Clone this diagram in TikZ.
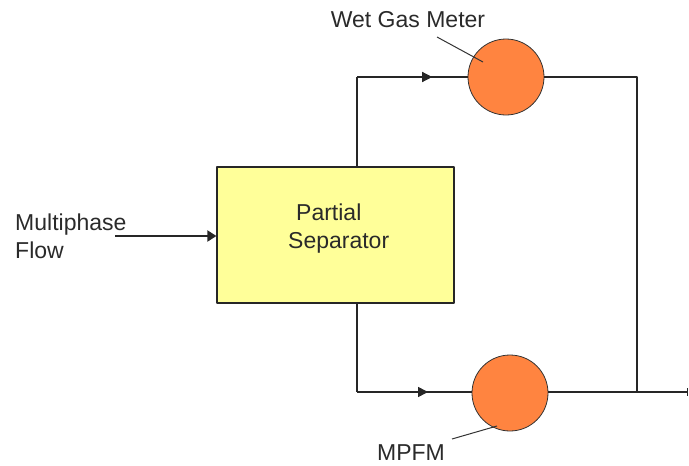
\documentclass[tikz,border=0pt]{standalone}
\usepackage{fontspec}
\setmainfont{Liberation Sans}
\usetikzlibrary{arrows.meta,decorations.markings}
\definecolor{sepyellow}{HTML}{FFFF99}
\definecolor{meterorange}{HTML}{FF8440}
\definecolor{txtgray}{HTML}{2A2A2A}
\begin{document}
\begin{tikzpicture}[x=1pt,y=-1pt,line join=round,>=Triangle,
		font=\fontsize{23}{28}\selectfont,
		pipe/.style={draw=black!85,line width=1.3pt},
		midarrow/.style={postaction={decorate},decoration={markings,
				mark=at position #1 with {\arrow{Triangle[length=10pt,width=10pt]}}}},
		meter/.style={circle,draw=black!80,line width=0.8pt,fill=meterorange,
				minimum size=76pt,inner sep=0pt},
		label/.style={text=txtgray,inner sep=0pt},
		leader/.style={draw=black!80,line width=1pt}]
	\useasboundingbox (0,0) rectangle (689,466);
	% separator and meters
	\node[draw=black!85,line width=1.2pt,fill=sepyellow,minimum width=237pt,
		minimum height=136pt,inner sep=0pt] (sep) at (335.5,235) {};
	\node[label,align=left,anchor=west] (septxt) at (288,229) {\hspace*{8pt}Partial\\Separator};
	\node[meter] (wgm) at (506,77) {};
	\node[meter] (mpfm) at (510,393) {};
	% pipe corners
	\coordinate (inlet) at (115,236);
	\coordinate (gasbend) at (357,77);
	\coordinate (liqbend) at (357,392);
	\coordinate (gasjoin) at (637,77);
	\coordinate (liqjoin) at (637,392);
	\coordinate (outlet) at (688,392);
	% pipes
	\draw[pipe,line width=2pt,-{Triangle[length=9pt,width=11pt]}] (inlet) -- (sep.west|-inlet);
	\draw[pipe] (sep.north-|gasbend) -- (gasbend);
	\draw[pipe,midarrow=0.68] (gasbend) -- (wgm.west);
	\draw[pipe] (sep.south-|liqbend) -- (liqbend);
	\draw[pipe,midarrow=0.62] (liqbend) -- (mpfm.west|-liqbend);
	\draw[pipe] (wgm.east) -- (gasjoin) -- (liqjoin);
	\draw[pipe] (mpfm.east|-liqbend) -- (liqjoin);
	\draw[pipe,-{Bar[width=8pt]}] (liqjoin) -- (outlet);
	% labels
	\node[label,align=left,anchor=west] (inlettxt) at (15,236) {Multiphase\\Flow};
	\node[label] (wgmtxt) at (408,20) {Wet Gas Meter};
	\node[label] (mpfmtxt) at (411,453) {MPFM};
	\coordinate (wgmlead) at (437,37);
	\coordinate (mpfmlead) at (452,439);
	\draw[leader] (wgmlead) -- (483,62);
	\draw[leader] (mpfmlead) -- (497,426);
\end{tikzpicture}
\end{document}
